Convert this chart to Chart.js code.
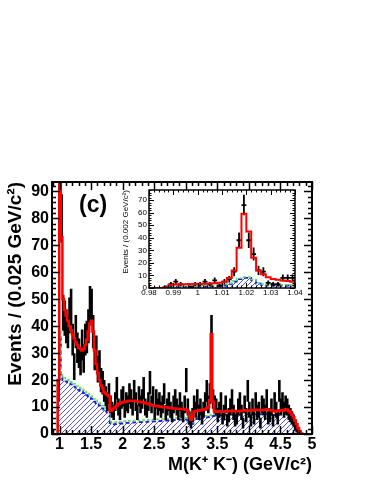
<!DOCTYPE html>
<html>
<head>
<meta charset="utf-8">
<script src="https://cdn.jsdelivr.net/npm/chart.js@4/dist/chart.umd.min.js"></script>
<style>
  body { margin: 0; background: #fff; }
  #wrap { position: relative; width: 374px; height: 484px; }
  #insetChart { position: absolute; left: 100px; top: 178px; }
</style>
</head>
<body>
<div id="wrap">
  <canvas id="mainChart" width="374" height="484"></canvas>
  <canvas id="insetChart" width="205" height="122"></canvas>
</div>
<script>
// ---- main plot: M(K+K-) in 0.025 GeV bins, first bin starts at 0.97
var binLow = 0.97;
var binWidth = 0.025;

// data (events per bin)
var kkCounts = [
  16, 250, 80, 45, 43, 40, 38, 44, 47, 35,
  25, 38, 32, 30, 27, 33, 28, 35, 36, 40,
  48, 47, 38, 29, 31, 24, 26, 20, 19, 16,
  14, 12, 15, 11, 9, 8, 12, 17, 10, 8,
  13, 14, 9, 12, 11, 15, 13, 10, 16, 12,
  8, 14, 11, 13, 17, 10, 9, 12, 19, 11,
  14, 8, 13, 10, 12, 9, 11, 15, 8, 10,
  12, 9, 7, 11, 13, 10, 8, 12, 9, 7,
  11, 20, 10, 6, 4, 7, 11, 9, 13, 8,
  10, 6, 9, 12, 16, 11, 15, 38, 13, 11,
  10, 7, 9, 12, 6, 8, 11, 5, 7, 10,
  13, 8, 5, 6, 10, 12, 8, 4, 11, 7,
  16, 9, 5, 10, 6, 12, 8, 9, 4, 11,
  10, 8, 13, 6, 7, 10, 5, 12, 9, 6,
  16, 10, 12, 9, 11, 10, 8, 7, 6, 5,
  3, 2, 1, 0, 0
];

// total fit (red)
var fitTotal = [
  20, 300, 73, 50, 46, 44, 42, 40, 38.5, 37,
  35.5, 34, 33, 32, 31.5, 31, 31.5, 33, 35, 38,
  41, 42, 38, 31, 26, 22.5, 20, 18, 17, 15.5,
  15, 14.5, 14, 8.5, 8.8, 9.5, 10, 10.5, 11, 11.3,
  11.6, 11.8, 12, 12.1, 12.2, 12.3, 12.3, 12.3, 12.3, 12.2,
  12.1, 12, 11.9, 11.8, 11.7, 11.5, 11.3, 11.1, 10.9, 10.8,
  10.6, 10.5, 10.4, 10.3, 10.2, 10.1, 10, 9.9, 9.9, 9.8,
  9.7, 9.6, 9.6, 9.5, 9.5, 9.4, 9.4, 9.3, 9.3, 9.2,
  9.2, 9.0, 8.5, 6.5, 5.3, 6.5, 8.3, 8.5, 8.6, 8.7,
  8.8, 8.9, 9.0, 9.2, 9.5, 10, 12.5, 37, 12, 8.5,
  8.3, 8.3, 8.4, 8.4, 8.3, 8.3, 8.4, 8.5, 8.4, 8.4,
  8.5, 8.6, 8.5, 8.5, 8.4, 8.5, 8.6, 8.7, 8.8, 8.7,
  8.6, 8.6, 8.7, 8.8, 8.9, 9.0, 9.0, 8.9, 8.8, 8.8,
  8.9, 9.0, 9.2, 9.1, 8.9, 8.7, 8.5, 8.4, 8.3, 8.5,
  8.7, 8.8, 8.6, 8.8, 9.2, 9.0, 8.5, 8.0, 7.2, 6.2,
  5.0, 3.6, 2.2, 1.0, 0.2
];

// non-resonant + background (green)
var fitGreen = [
  19, 38, 22, 21, 20.8, 20.5, 20.2, 19.8, 19.4, 19,
  18.6, 18.2, 17.8, 17.4, 17, 16.6, 16.2, 15.8, 15.4, 15,
  14.5, 14, 13.5, 13, 12.5, 12, 11.5, 11, 10.5, 10,
  9.5, 9, 8.6, 4.6, 4.3, 4.3, 4.4, 4.5, 4.5, 4.6,
  4.6, 4.7, 4.7, 4.8, 4.8, 4.9, 4.9, 4.9, 5.0, 5.0,
  5.0, 5.1, 5.1, 5.1, 5.2, 5.2, 5.2, 5.3, 5.3, 5.3,
  5.4, 5.4, 5.4, 5.5, 5.5, 5.6, 5.6, 5.7, 5.7, 5.7,
  5.8, 5.8, 5.9, 5.9, 5.9, 6.0, 6.0, 6.0, 6.1, 6.1,
  6.1, 6.0, 5.5, 4.3, 3.7, 4.3, 5.5, 6.1, 6.2, 6.3,
  6.4, 6.5, 6.6, 6.7, 6.8, 6.9, 7.0, 7.2, 7.3, 7.5,
  7.6, 7.7, 7.7, 7.7, 7.7, 7.7, 7.8, 7.8, 7.8, 7.8,
  7.8, 7.9, 7.9, 7.9, 7.9, 7.9, 8.0, 8.0, 8.0, 8.0,
  8.0, 8.0, 8.1, 8.1, 8.1, 8.1, 8.1, 8.1, 8.1, 8.0,
  8.0, 8.0, 8.1, 8.1, 8.0, 7.9, 7.8, 7.8, 7.7, 7.9,
  8.1, 8.2, 8.2, 8.3, 8.4, 8.2, 7.7, 7.1, 6.4, 5.4,
  4.4, 3.1, 1.8, 0.8, 0.1
];

// background (blue hatched)
var fitBkg = [
  18, 37, 21, 20, 19.8, 19.5, 19.2, 18.8, 18.4, 18,
  17.6, 17.2, 16.8, 16.4, 16, 15.6, 15.2, 14.8, 14.4, 14,
  13.5, 13, 12.5, 12, 11.5, 11, 10.5, 10, 9.5, 9,
  8.5, 8, 7.6, 4, 3.6, 3.6, 3.7, 3.8, 3.8, 3.9,
  3.9, 4.0, 4.0, 4.1, 4.1, 4.2, 4.2, 4.2, 4.3, 4.3,
  4.3, 4.4, 4.4, 4.4, 4.5, 4.5, 4.5, 4.6, 4.6, 4.6,
  4.7, 4.7, 4.7, 4.8, 4.8, 4.9, 4.9, 5.0, 5.0, 5.0,
  5.1, 5.1, 5.2, 5.2, 5.2, 5.3, 5.3, 5.3, 5.4, 5.4,
  5.4, 5.4, 5.0, 3.8, 3.2, 3.8, 5.0, 5.5, 5.6, 5.7,
  5.8, 5.9, 6.0, 6.1, 6.2, 6.3, 6.4, 6.5, 6.6, 6.8,
  6.9, 7.0, 7.0, 7.0, 7.0, 7.0, 7.1, 7.1, 7.1, 7.1,
  7.1, 7.2, 7.2, 7.2, 7.2, 7.2, 7.3, 7.3, 7.3, 7.3,
  7.3, 7.3, 7.4, 7.4, 7.4, 7.4, 7.4, 7.4, 7.4, 7.3,
  7.3, 7.3, 7.4, 7.4, 7.3, 7.2, 7.1, 7.1, 7.0, 7.2,
  7.4, 7.5, 7.5, 7.6, 7.7, 7.5, 7.0, 6.4, 5.8, 4.9,
  4.0, 2.8, 1.6, 0.7, 0.1
];

// ---- inset: phi region in 0.002 GeV bins, from 0.98
var insetLow = 0.98;
var insetWidth = 0.002;
var insetCounts = [0, 0, 0, 1, 3, 5, 3, 0, 1, 3, 3, 5, 3, 6, 2, 5, 7, 13, 38, 66, 38, 27, 14, 13, 4, 3, 3, 8, 8, 8];
var insetFit = [0, 0, 0, 0.5, 2.5, 2.8, 3, 3, 3.1, 3.2, 3.3, 3.4, 3.6, 3.8, 4.2, 5, 8, 14, 32, 59, 45, 24, 14, 11, 8.5, 7.2, 6.5, 6, 5.5, 5];
var insetGreen = [0, 0, 0, 0.6, 1.5, 1.5, 1.5, 1.5, 1.5, 1.5, 1.7, 1.7, 1.8, 2, 2.2, 2.6, 3.6, 5.8, 7.8, 8.8, 8.8, 6.8, 4.2, 3.1, 2.6, 2.5, 2.5, 2.5, 2.5, 2.5];
var insetBkg = [0, 0, 0, 0.5, 1, 1, 1, 1, 1, 1, 1.2, 1.2, 1.3, 1.5, 1.7, 2, 3, 5, 7, 8, 8, 6, 3.5, 2.5, 2, 2, 2, 2, 2, 2];

var mainYTitle = "Events / (0.025 GeV/c\u00B2)";
var mainXTitle = "M(K\u207A K\u207B) (GeV/c\u00B2)";
var insetYTitle = "Events / (0.002 GeV/c\u00B2)";
var panelLabel = "(c)";

var FONT = "'Liberation Sans', Arial, Helvetica, sans-serif";

// histogram outline: points at lower bin edges, closed down to zero on both ends
function histPoints(low, width, vals) {
  var pts = [{ x: low, y: 0 }];
  vals.forEach(function (v, i) {
    pts.push({ x: low + i * width, y: v });
  });
  pts.push({ x: low + vals.length * width, y: 0 });
  return pts;
}

// ROOT style hatch (3004-like)
function hatch(color, size) {
  var c = document.createElement("canvas");
  c.width = size;
  c.height = size;
  var g = c.getContext("2d");
  g.strokeStyle = color;
  g.lineWidth = 1;
  g.beginPath();
  g.moveTo(0, size);
  g.lineTo(size, 0);
  g.moveTo(-1, 1);
  g.lineTo(1, -1);
  g.moveTo(size - 1, size + 1);
  g.lineTo(size + 1, size - 1);
  g.stroke();
  return g.createPattern(c, "repeat");
}

function isMult(v, step) {
  var r = v / step;
  return Math.abs(r - Math.round(r)) < 1e-6;
}

// frame with inward ticks on all four sides, plus data points with error bars
function rootPlugin(cfg) {
  return {
    id: "rootStyle",
    afterDatasetDraw: function (chart, args) {
      if (args.index !== 1) return; // points go under the red total fit
      var ctx = chart.ctx, xs = chart.scales.x, ys = chart.scales.y, a = chart.chartArea;
      ctx.save();
      ctx.beginPath();
      ctx.rect(a.left, a.top, a.right - a.left, a.bottom - a.top);
      ctx.clip();
      ctx.strokeStyle = "#000";
      ctx.lineWidth = cfg.pointWidth;
      ctx.beginPath();
      cfg.counts.forEach(function (n, i) {
        if (n <= 0) return;
        var err = Math.sqrt(n);
        var x0 = xs.getPixelForValue(cfg.low + i * cfg.width);
        var x1 = xs.getPixelForValue(cfg.low + (i + 1) * cfg.width);
        var xc = (x0 + x1) / 2;
        var y = ys.getPixelForValue(n);
        ctx.moveTo(xc, ys.getPixelForValue(n - err));
        ctx.lineTo(xc, ys.getPixelForValue(n + err));
        ctx.moveTo(x0, y);
        ctx.lineTo(x1, y);
      });
      ctx.stroke();
      ctx.restore();
    },
    afterDraw: function (chart) {
      var ctx = chart.ctx, xs = chart.scales.x, ys = chart.scales.y, a = chart.chartArea;
      ctx.save();
      ctx.strokeStyle = "#000";
      ctx.lineWidth = cfg.tickWidth;
      ctx.beginPath();
      var k, v, p, len;
      for (k = 0; ; k++) {
        v = cfg.xTickStart + k * cfg.xMinor;
        if (v > xs.max + 1e-9) break;
        if (v < xs.min - 1e-9) continue;
        p = Math.round(xs.getPixelForValue(v)) + 0.5;
        len = isMult(v, cfg.xMajor) ? cfg.major : cfg.minor;
        ctx.moveTo(p, a.bottom);
        ctx.lineTo(p, a.bottom - len);
        ctx.moveTo(p, a.top);
        ctx.lineTo(p, a.top + len);
      }
      for (k = 0; ; k++) {
        v = k * cfg.yMinor;
        if (v > ys.max + 1e-9) break;
        p = Math.round(ys.getPixelForValue(v)) + 0.5;
        len = isMult(v, cfg.yMajor) ? cfg.major : cfg.minor;
        ctx.moveTo(a.left, p);
        ctx.lineTo(a.left + len, p);
        ctx.moveTo(a.right, p);
        ctx.lineTo(a.right - len, p);
      }
      ctx.stroke();
      ctx.lineWidth = cfg.frameWidth;
      ctx.strokeRect(a.left, a.top, a.right - a.left, a.bottom - a.top);
      if (cfg.label) {
        ctx.fillStyle = "#000";
        ctx.font = "bold 23px " + FONT;
        ctx.textAlign = "left";
        ctx.textBaseline = "middle";
        ctx.fillText(cfg.label, 79, 206);
      }
      ctx.restore();
    },
  };
}

function curveSets(low, width, total, green, bkg, redWidth) {
  return [
    {
      data: histPoints(low, width, total),
      borderColor: "#ff0000",
      borderWidth: redWidth,
      stepped: "before",
      pointRadius: 0,
      fill: false,
    },
    {
      data: histPoints(low, width, green),
      borderColor: "#5cdc5c",
      borderWidth: 1.5,
      borderDash: [3, 2],
      stepped: "before",
      pointRadius: 0,
      fill: false,
    },
    {
      data: histPoints(low, width, bkg),
      borderColor: "#1a1ae0",
      borderWidth: 1.8,
      borderDash: [4, 3],
      stepped: "before",
      pointRadius: 0,
      fill: "origin",
      backgroundColor: hatch("#5858d8", 5),
    },
  ];
}

var mainChart = new Chart(document.getElementById("mainChart"), {
  type: "line",
  data: { datasets: curveSets(binLow, binWidth, fitTotal, fitGreen, fitBkg, 2.5) },
  options: {
    responsive: false,
    animation: false,
    devicePixelRatio: 1,
    layout: { padding: { left: 0, top: 182, right: 62, bottom: 4 } },
    scales: {
      x: {
        type: "linear",
        min: 0.88,
        max: 5.0,
        afterFit: function (s) { s.height = 46; },
        grid: { display: false, drawTicks: false },
        border: { display: false },
        ticks: {
          stepSize: 0.5,
          includeBounds: false,
          autoSkip: false,
          maxRotation: 0,
          padding: 1,
          color: "#000",
          font: { family: FONT, size: 16, weight: "bold" },
          callback: function (v) { return String(+v.toFixed(2)); },
        },
        title: {
          display: true,
          text: mainXTitle,
          align: "end",
          color: "#000",
          padding: { top: 0, bottom: 4 },
          font: { family: FONT, size: 18, weight: "bold" },
        },
      },
      y: {
        min: 0,
        max: 93.5,
        afterFit: function (s) { s.width = 52; },
        grid: { display: false, drawTicks: false },
        border: { display: false },
        ticks: {
          stepSize: 10,
          includeBounds: false,
          padding: 3,
          color: "#000",
          font: { family: FONT, size: 16, weight: "bold" },
        },
        title: {
          display: true,
          text: mainYTitle,
          align: "end",
          color: "#000",
          padding: { top: 4, bottom: 0 },
          font: { family: FONT, size: 19, weight: "bold" },
        },
      },
    },
    plugins: { legend: { display: false }, tooltip: { enabled: false } },
  },
  plugins: [
    rootPlugin({
      counts: kkCounts, low: binLow, width: binWidth, pointWidth: 2.6,
      xTickStart: 0.9, xMinor: 0.1, xMajor: 0.5, yMinor: 2, yMajor: 10,
      major: 8, minor: 4, tickWidth: 1.5, frameWidth: 2, label: panelLabel,
    }),
  ],
});

var insetChart = new Chart(document.getElementById("insetChart"), {
  type: "line",
  data: { datasets: curveSets(insetLow, insetWidth, insetFit, insetGreen, insetBkg, 2) },
  options: {
    responsive: false,
    animation: false,
    devicePixelRatio: 1,
    layout: { padding: { left: 21, top: 12, right: 10, bottom: 0 } },
    scales: {
      x: {
        type: "linear",
        min: 0.98,
        max: 1.04,
        afterFit: function (s) { s.height = 12; },
        grid: { display: false, drawTicks: false },
        border: { display: false },
        ticks: {
          stepSize: 0.01,
          autoSkip: false,
          maxRotation: 0,
          padding: 0,
          color: "#000",
          font: { family: FONT, size: 8 },
          callback: function (v) { return String(+v.toFixed(3)); },
        },
      },
      y: {
        min: 0,
        max: 78,
        afterFit: function (s) { s.width = 28; },
        grid: { display: false, drawTicks: false },
        border: { display: false },
        ticks: {
          stepSize: 10,
          includeBounds: false,
          padding: 2,
          color: "#000",
          font: { family: FONT, size: 8 },
        },
        title: {
          display: true,
          text: insetYTitle,
          align: "end",
          color: "#000",
          padding: { top: 0, bottom: 0 },
          font: { family: FONT, size: 8 },
        },
      },
    },
    plugins: { legend: { display: false }, tooltip: { enabled: false } },
  },
  plugins: [
    rootPlugin({
      counts: insetCounts, low: insetLow, width: insetWidth, pointWidth: 1.8,
      xTickStart: 0.98, xMinor: 0.002, xMajor: 0.01, yMinor: 2, yMajor: 10,
      major: 5, minor: 2.5, tickWidth: 1, frameWidth: 1.5, label: null,
    }),
  ],
});
</script>
</body>
</html>
